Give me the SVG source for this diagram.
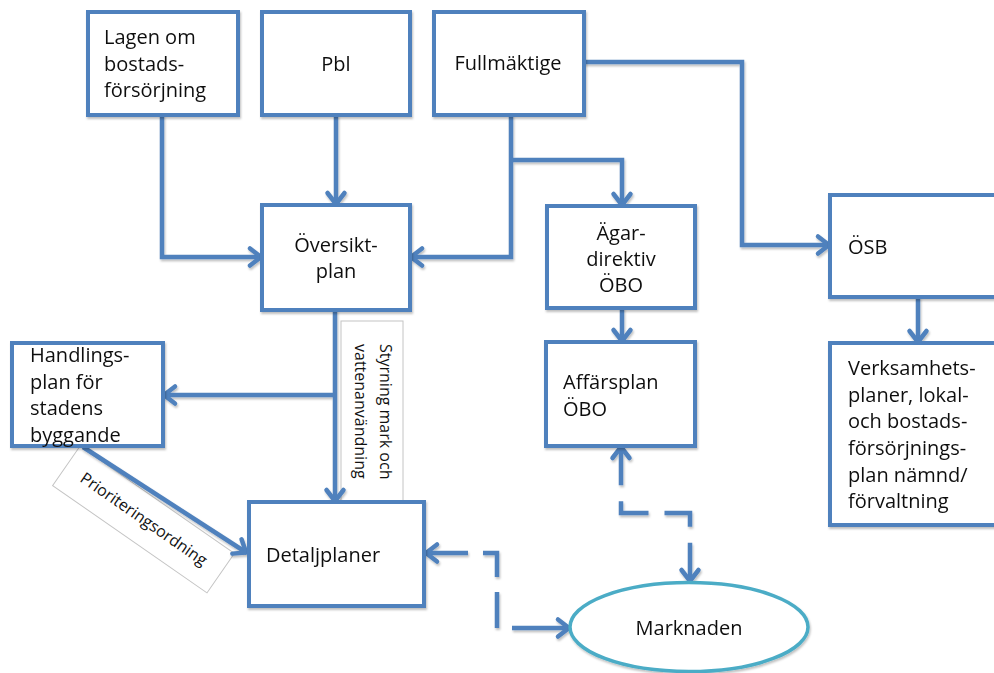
<svg xmlns="http://www.w3.org/2000/svg" width="994" height="673" viewBox="0 0 994 673">
<defs>
<style>
.box{fill:#fff;stroke:#4F81BD;stroke-width:4}
.lbl{fill:#fff;stroke:#C4C4C4;stroke-width:1}
.c{fill:none;stroke:#4F81BD;stroke-width:4.5;marker-end:url(#ah)}
.d{marker-start:url(#ah)}
.t{font-family:"Open Sans","Liberation Sans",sans-serif;font-size:20px;fill:#111}
.s{font-size:16px}
.m{text-anchor:middle}
</style>
<marker id="ah" markerUnits="userSpaceOnUse" viewBox="-16 -12 20 24" markerWidth="20" markerHeight="24" refX="0" refY="0" orient="auto-start-reverse" overflow="visible">
<path d="M-12,-8.5 L-1,0 L-12,8.5" fill="none" stroke="#4F81BD" stroke-width="4.5" stroke-linecap="round" stroke-linejoin="round"/>
</marker>
<filter id="sh" x="-10%" y="-10%" width="130%" height="130%"><feDropShadow dx="1" dy="2" stdDeviation="1.2" flood-color="#000" flood-opacity="0.25"/></filter>
</defs>
<rect width="994" height="673" fill="#fff"/>

<g id="labels">
<g id="label-styrning">
<rect class="lbl" x="341" y="321" width="62" height="181"/>
<text class="t s" transform="translate(380,344) rotate(90)">Styrning mark och</text>
<text class="t s" transform="translate(355,344) rotate(90)">vattenanvändning</text>
</g>
<g id="label-prio" transform="translate(143.5,519.5) rotate(34.8)">
<rect class="lbl" x="-94" y="-24" width="188" height="48"/>
<text class="t s m" x="0" y="5">Prioriteringsordning</text>
</g>
</g>

<g id="connectors" filter="url(#sh)">
<path class="c" d="M162,115 V257 H262"/>
<path class="c" d="M336,115 V205"/>
<path class="c" d="M511,115 V257 H410"/>
<path class="c" d="M511,160 H622 V206"/>
<path class="c" d="M584,62 H742 V245 H830"/>
<path class="c" d="M622,308 V342"/>
<path class="c" d="M918,297 V343"/>
<path class="c" d="M335,310 V502"/>
<path class="c" d="M335,395 H163"/>
<path class="c" d="M83,447 L247,553"/>
<path class="c d" d="M621,446 V513 H690 V582" stroke-dasharray="39.25 16"/>
<path class="c d" d="M425,553 H497 V628 H570" stroke-dasharray="43 15 38 15 36 15 58"/>
</g>

<g id="nodes" filter="url(#sh)">
<g id="lagen">
<rect class="box" x="88" y="12" width="150" height="103"/>
<text class="t" x="104" y="44">Lagen om</text>
<text class="t" x="104" y="70.5">bostads-</text>
<text class="t" x="104" y="97">försörjning</text>
</g>
<g id="pbl">
<rect class="box" x="262" y="12" width="148" height="103"/>
<text class="t m" x="336" y="71">Pbl</text>
</g>
<g id="fullmaktige">
<rect class="box" x="434" y="12" width="150" height="103"/>
<text class="t m" x="508" y="70">Fullmäktige</text>
</g>
<g id="oversiktplan">
<rect class="box" x="262" y="205" width="148" height="105"/>
<text class="t m" x="336" y="252">Översikt-</text>
<text class="t m" x="336" y="278">plan</text>
</g>
<g id="agardirektiv">
<rect class="box" x="547" y="206" width="148" height="102"/>
<text class="t m" x="621" y="240">Ägar-</text>
<text class="t m" x="621" y="266">direktiv</text>
<text class="t m" x="621" y="292">ÖBO</text>
</g>
<g id="osb">
<rect class="box" x="830" y="195" width="180" height="102"/>
<text class="t" x="848" y="254">ÖSB</text>
</g>
<g id="affarsplan">
<rect class="box" x="546" y="342" width="149" height="104"/>
<text class="t" x="563" y="389">Affärsplan</text>
<text class="t" x="563" y="416">ÖBO</text>
</g>
<g id="verksamhet">
<rect class="box" x="830" y="343" width="180" height="182"/>
<text class="t" x="848" y="375">Verksamhets-</text>
<text class="t" x="848" y="401.5">planer, lokal-</text>
<text class="t" x="848" y="428">och bostads-</text>
<text class="t" x="848" y="455">försörjnings-</text>
<text class="t" x="848" y="481.5">plan nämnd/</text>
<text class="t" x="848" y="508">förvaltning</text>
</g>
<g id="handlingsplan">
<rect class="box" x="12" y="343" width="151" height="103"/>
<text class="t" x="30" y="362">Handlings-</text>
<text class="t" x="30" y="388.5">plan för</text>
<text class="t" x="30" y="415">stadens</text>
<text class="t" x="30" y="442">byggande</text>
</g>
<g id="detaljplaner">
<rect class="box" x="249" y="502" width="175" height="104"/>
<text class="t" x="266" y="562">Detaljplaner</text>
</g>
<g id="marknaden">
<ellipse cx="689" cy="627" rx="119" ry="44.5" fill="#fff" stroke="#4BACC6" stroke-width="3.5"/>
<text class="t m" x="689" y="635">Marknaden</text>
</g>
</g>
</svg>
